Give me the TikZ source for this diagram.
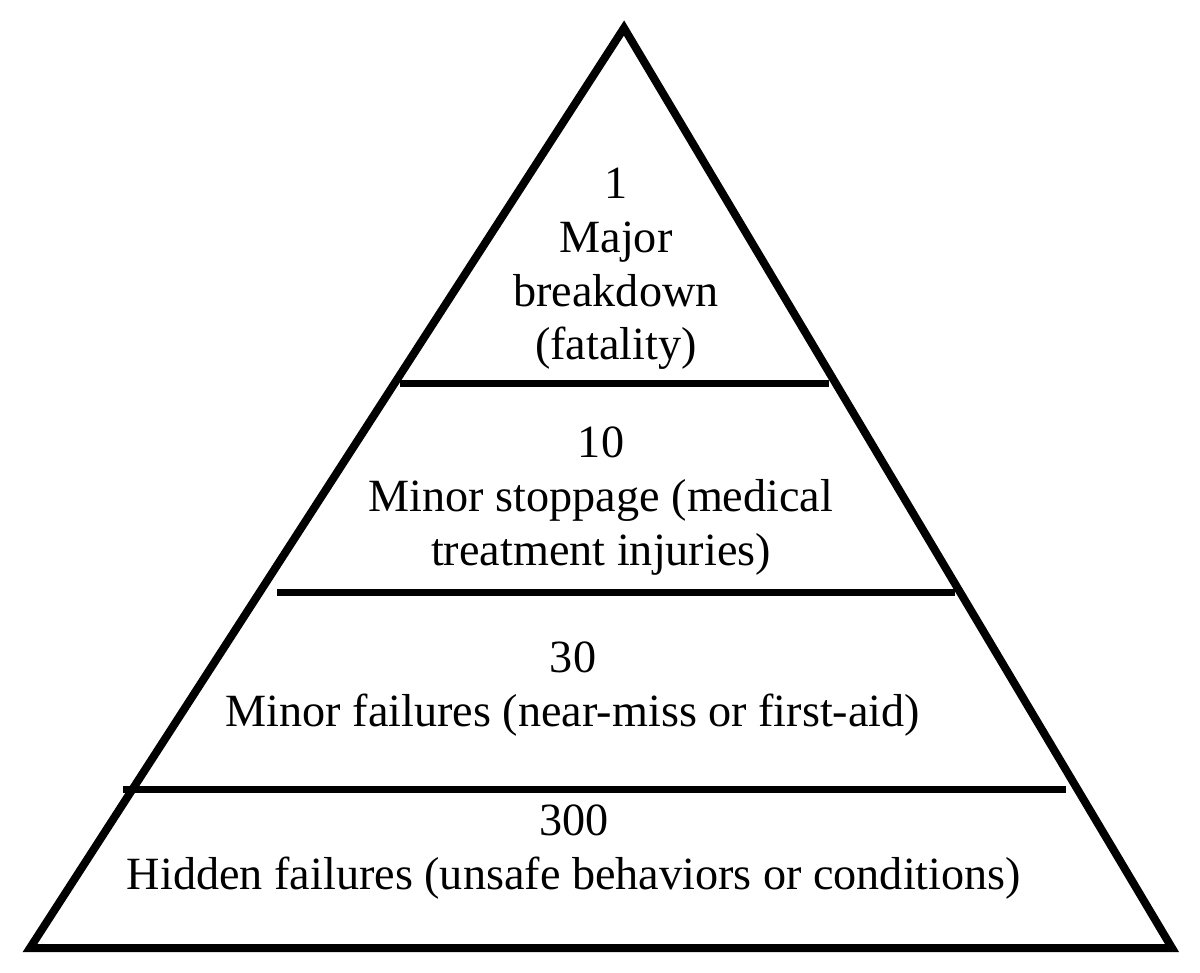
\documentclass[tikz,border=0pt]{standalone}
\usepackage{fontspec}
\setmainfont{Liberation Serif}

\begin{document}
\begin{tikzpicture}[x=0.5pt,y=-0.5pt]
\tikzset{Level/.style ={line width=3.5pt, line cap=butt}}
\tikzset{Label/.style ={align=center, inner sep=0, font=\fontsize{23.1}{26.8}\selectfont}}
\useasboundingbox (0,0) rectangle (1200,973);
% pyramid
\coordinate (top) at (624,28);
\coordinate (bl) at (30,948);
\coordinate (br) at (1172,948);
\draw[line width=4pt, line join=miter] (top) -- (bl) -- (br) -- cycle;
% levels
\coordinate (l1a) at (400,384); \coordinate (l1b) at (829,384);
\coordinate (l2a) at (277,592); \coordinate (l2b) at (955,592);
\coordinate (l3a) at (123,789); \coordinate (l3b) at (1066,789);
\draw[Level] (l1a) -- (l1b);
\draw[Level] (l2a) -- (l2b);
\draw[Level] (l3a) -- (l3b);
% texts
\node[Label] (fatal) at (616,269) {1\\Major\\breakdown\\(fatality)};
\node[Label] (stop) at (601,501) {10\\Minor stoppage (medical\\treatment injuries)};
\node[Label] (minor) at (573,689) {30\\Minor failures (near-miss or first-aid)};
\node[Label] (hidden) at (574,852) {300\\Hidden failures (unsafe behaviors or conditions)};
\end{tikzpicture}
\end{document}
